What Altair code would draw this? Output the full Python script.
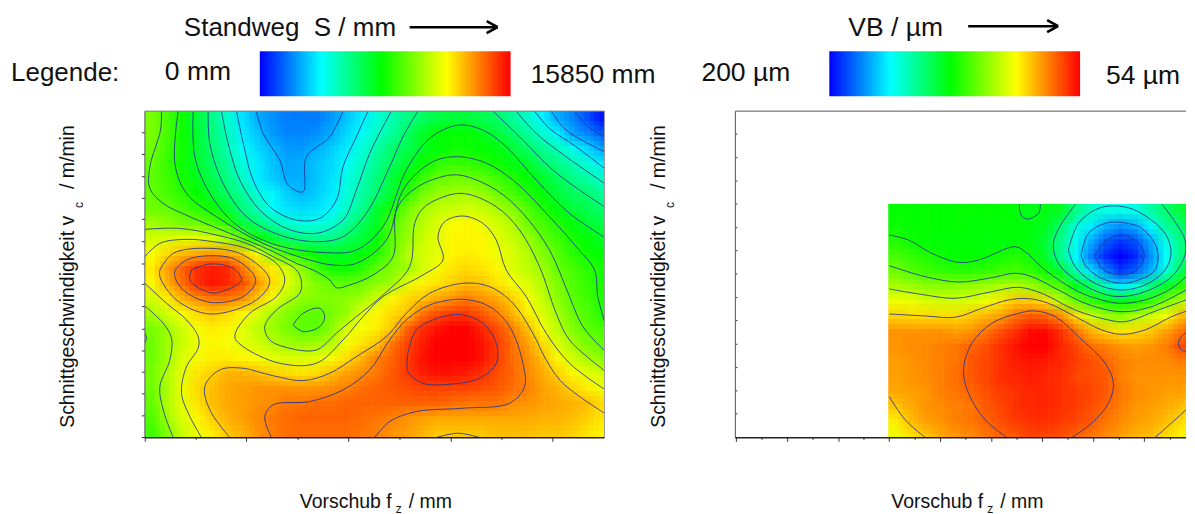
import itertools
import altair as alt
import pandas as pd

# ---- colour scale of both legends (0 = blue end, 100 = red end)
color_domain = [0, 24.5, 48.6, 74.5, 100]
color_range = ["#0000ff", "#00ffff", "#00ff00", "#ffff00", "#ff0000"]

# ---- left panel: Standweg, on a ruler of 3 units per pixel
left_x = [67.5 + 45 * i for i in range(31)]
left_y = [55.5 + 45 * j for j in range(22)]
L00 = [61,56,50,43,36,29,22,17,14,12,12,12,15,19,23,28,32,36,39,42,43,43,41,39,34,30,24,17,13,8,2]
L01 = [61,56,50,44,37,31,23,19,15,13,13,14,17,21,25,30,34,39,45,48,49,49,46,43,39,34,29,24,16,13,9]
L02 = [60,55,50,44,38,32,25,21,18,15,15,17,20,23,28,33,38,41,45,48,50,50,49,47,44,39,35,31,26,21,16]
L03 = [59,54,50,44,39,34,28,23,19,16,17,19,21,25,30,35,40,44,49,53,54,54,52,50,47,45,39,36,32,28,23]
L04 = [58,55,51,46,41,36,30,23,20,17,17,19,22,27,32,37,43,49,54,59,60,60,58,55,52,49,45,40,36,33,30]
L05 = [59,56,53,49,44,39,34,28,24,20,18,20,23,28,33,38,44,53,60,64,65,66,64,60,56,52,48,43,40,38,34]
L06 = [60,59,56,53,50,44,37,32,25,22,21,22,24,30,35,44,51,60,65,68,69,70,69,66,62,57,52,47,43,41,38]
L07 = [65,63,61,60,57,53,43,38,33,29,27,27,29,34,40,45,57,63,67,71,74,75,73,70,67,60,56,52,48,44,42]
L08 = [70,71,72,72,70,66,59,50,44,39,36,35,36,40,43,48,58,64,69,72,75,75,75,72,69,65,59,55,51,48,45]
L09 = [74,78,81,83,84,83,80,73,62,55,51,47,45,45,48,52,59,67,70,72,75,76,75,73,71,67,62,58,53,50,48]
L10 = [76,84,90,95,97,96,88,80,76,70,63,55,50,50,53,58,62,65,70,74,77,78,77,75,71,68,65,59,56,53,51]
L11 = [75,82,89,95,98,96,92,85,78,72,66,62,59,58,60,63,65,72,75,77,79,81,80,77,74,71,67,62,57,54,51]
L12 = [70,76,82,86,88,88,86,80,74,67,63,62,62,63,65,70,75,78,80,83,85,87,85,83,79,74,69,63,58,55,52]
L13 = [66,70,74,78,80,78,75,71,66,62,59,58,61,64,72,75,78,80,88,92,94,94,91,87,82,76,71,66,60,57,52]
L14 = [61,65,70,74,76,75,72,68,65,61,58,58,63,71,74,76,80,90,95,98,100,100,96,92,87,81,74,68,62,58,56]
L15 = [60,65,69,73,75,74,72,70,67,65,64,65,67,74,77,80,88,93,97,100,100,100,98,94,89,84,78,71,66,61,59]
L16 = [60,65,71,74,76,76,75,74,72,71,71,72,74,78,82,87,90,94,98,100,100,100,98,94,89,86,81,75,70,66,63]
L17 = [61,67,72,77,79,82,82,81,79,78,77,78,81,84,86,88,91,94,97,98,98,97,95,92,90,86,83,79,75,72,70]
L18 = [60,66,73,78,81,83,84,85,85,85,85,85,86,87,89,90,91,92,93,93,93,93,92,91,89,87,84,82,79,76,73]
L19 = [59,67,72,77,81,83,84,85,86,88,88,89,89,90,90,90,90,90,90,90,89,88,88,88,86,85,84,83,82,81,78]
L20 = [57,65,71,75,79,82,84,86,88,89,90,90,90,90,89,88,87,85,84,83,83,83,83,83,83,83,82,82,81,79,77]
L21 = [55,62,69,73,76,80,82,85,87,89,89,89,89,89,88,87,85,84,82,80,80,80,80,81,81,81,80,80,79,77,75]
left_rows = [L00,L01,L02,L03,L04,L05,L06,L07,L08,L09,L10,L11,L12,L13,L14,L15,L16,L17,L18,L19,L20,L21]

# ---- right panel: VB
right_x = [512.5 + 45 * i for i in range(21)]
right_y = [334.5 + 45 * j for j in range(16)]
R00 = [49,49,49,49,49,49,49,49,48,46,47,45,36,30,27,27,27,33,38,43,48]
R01 = [50,49,49,49,49,48,48,48,48,47,46,38,28,23,17,14,17,24,34,38,45]
R02 = [52,50,49,48,48,48,47,47,48,47,43,35,26,17,9,5,8,17,27,36,43]
R03 = [56,54,52,50,49,49,49,51,52,50,44,35,24,12,4,0,4,14,25,36,43]
R04 = [60,57,55,54,53,53,54,55,56,54,50,44,33,22,13,6,10,18,28,40,50]
R05 = [66,65,63,63,63,64,65,67,67,65,60,57,46,40,31,23,28,37,45,53,58]
R06 = [73,73,71,70,70,71,73,77,80,80,78,67,60,54,50,47,50,54,61,67,72]
R07 = [79,78,78,78,78,80,82,84,89,91,90,86,78,70,65,63,67,70,74,81,83]
R08 = [85,85,85,85,84,85,88,92,95,99,99,95,89,82,79,77,78,80,84,88,92]
R09 = [85,86,86,87,88,90,92,95,98,100,100,96,93,89,87,85,84,85,87,92,94]
R10 = [84,85,86,87,88,91,93,95,97,98,97,96,94,92,90,87,86,86,86,87,87]
R11 = [84,85,86,87,89,91,93,95,96,97,96,95,93,92,91,87,85,85,85,85,85]
R12 = [83,84,85,87,88,90,92,94,95,96,96,95,94,93,91,88,86,85,84,84,82]
R13 = [80,83,85,86,87,88,91,93,95,96,96,95,94,92,90,87,85,84,83,81,78]
R14 = [76,81,84,85,87,88,90,92,94,95,95,94,93,91,88,86,84,83,81,78,75]
R15 = [73,77,80,83,85,86,88,90,91,93,93,92,90,88,86,84,82,81,78,75,72]
right_rows = [R00,R01,R02,R03,R04,R05,R06,R07,R08,R09,R10,R11,R12,R13,R14,R15]

# ---- contour lines of the left panel
c_a1 = [(380,33),(400,100),(450,180),(475,255),(520,275),(530,170),(600,110),(640,33)]
c_a2 = [(320,33),(345,150),(370,240),(420,320),(500,360),(570,355),(620,300),(640,200),(680,110),(715,33)]
c_a3 = [(275,33),(295,130),(330,240),(390,330),(470,385),(560,400),(640,360),(680,270),(720,160),(785,33)]
c_a4 = [(235,33),(240,130),(280,250),(350,350),(450,405),(560,425),(640,410),(710,340),(780,200),(820,110),(865,33)]
c_a5 = [(190,33),(195,170),(240,280),(320,375),(440,435),(590,458),(680,450),(760,380),(830,210),(900,115),(985,75),(1060,90),(1130,140),(1220,240),(1320,340),(1425,412)]
c_a6 = [(145,33),(135,190),(170,280),(260,350),(400,430),(540,480),(610,495),(680,490),(770,420),(820,270),(900,190),(970,170),(1060,185),(1150,240),(1260,350),(1340,440),(1395,510),(1405,590),(1425,665)]
c_a7 = [(95,33),(92,90),(60,200),(60,265),(100,310),(180,350),(300,400),(420,450),(500,490),(550,510),(600,540),(620,563),(660,555),(730,525),(790,470),(800,330),(850,270),(920,235),(990,225),(1100,270),(1180,340),(1260,450),(1320,590),(1360,680),(1425,752)]
c_a8 = [(45,388),(150,385),(260,405),(350,430),(430,470),(500,510),(515,545),(510,580),(440,630),(405,680),(420,720),(480,745),(560,750),(620,700),(680,650),(760,585),(840,500),(855,370),(880,325),(930,295),(1000,280),(1100,320),(1170,390),(1230,500),(1280,640),(1320,720),(1425,812)]
c_a9 = [(45,470),(90,430),(170,418),(250,425),(350,445),(440,490),(465,540),(440,590),(360,640),(315,710),(340,740),(450,790),(560,790),(640,720),(700,650),(760,590),(880,525),(940,480),(925,410),(945,365),(1000,348),(1060,370),(1100,420),(1130,510),(1190,590),(1250,700),(1320,790),(1425,868)]
c_b1 = [(45,550),(110,610),(170,660),(205,710),(205,745),(170,800),(155,880),(180,950),(215,1013)]
c_b2 = [(45,618),(100,670),(125,715),(120,780),(90,860),(100,930),(130,1013)]
c_b3 = [(490,675),(520,640),(570,625),(585,650),(570,680),(520,695),(490,675)]
c_b4 = [(300,1013),(240,930),(225,860),(270,810),(340,805),(420,825),(520,842),(600,820),(680,770),(770,710),(830,640),(900,580),(1000,550),(1080,560),(1150,610),(1210,700),(1250,780),(1300,850),(1425,940)]
c_b5 = [(425,1013),(405,950),(430,915),(540,905),(640,870),(720,810),(780,720),(830,660),(900,615),(1000,598),(1080,620),(1140,680),(1180,790),(1185,860),(1140,910),(1000,925),(860,935),(780,965),(735,1013)]
c_b6 = [(835,760),(860,690),(940,650),(1000,645),(1060,670),(1100,730),(1100,790),(1050,835),(960,853),(880,850),(835,815),(835,760)]
c_b7 = [(920,1013),(985,1000),(1050,1013)]
c_b8 = [(45,700),(50,715),(45,728)]
c_r1 = [(185,510),(240,492),(310,505),(335,540),(290,570),(240,578),(180,540),(185,510)]
c_r2 = [(135,510),(170,480),(240,467),(320,480),(378,540),(340,590),(240,607),(160,570),(135,530),(135,510)]
c_r3 = [(90,510),(130,460),(240,445),(340,465),(420,540),(380,600),(240,642),(140,600),(90,530),(90,510)]
c_t1 = [(1090,33),(1170,110),(1270,210),(1350,270),(1425,320)]
c_t2 = [(1160,33),(1220,100),(1310,170),(1425,250)]
c_t3 = [(1215,33),(1260,85),(1340,140),(1425,205)]
c_t4 = [(1265,33),(1310,90),(1425,155)]
c_t5 = [(1335,33),(1370,75),(1425,110)]
left_contours = [c_a1,c_a2,c_a3,c_a4,c_a5,c_a6,c_a7,c_a8,c_a9,c_b1,c_b2,c_b3,c_b4,c_b5,c_b6,c_b7,c_b8,c_r1,c_r2,c_r3,c_t1,c_t2,c_t3,c_t4,c_t5]

# ---- contour lines of the right panel
d_1 = [(1110,465),(1140,425),(1185,405),(1230,420),(1258,465),(1235,510),(1185,525),(1130,505),(1110,465)]
d_2 = [(1068,465),(1090,400),(1140,370),(1185,367),(1250,385),(1297,450),(1290,510),(1240,540),(1185,550),(1120,530),(1080,495),(1068,465)]
d_3 = [(1030,450),(1060,370),(1120,325),(1180,318),(1240,335),(1320,400),(1338,460),(1320,510),(1260,555),(1185,570),(1110,550),(1050,500),(1030,450)]
d_4 = [(1052,312),(1010,370),(985,430),(1000,490),(1060,545),(1130,580),(1185,590),(1260,575),(1340,530),(1380,465),(1380,420),(1350,365),(1310,312)]
d_5 = [(882,312),(888,345),(905,357),(940,340),(946,312)]
d_6 = [(492,405),(550,420),(620,460),(700,487),(760,480),(870,440),(900,455),(960,510),(1060,575),(1130,600),(1185,610),(1260,600),(1340,565),(1410,505)]
d_7 = [(492,497),(600,530),(700,546),(790,535),(870,520),(920,530),(1000,570),(1080,610),(1185,635),(1280,620),(1410,555)]
d_8 = [(492,567),(600,585),(690,595),(800,575),(880,562),(950,580),(1050,630),(1150,660),(1200,665),(1300,630),(1410,590)]
d_9 = [(492,642),(600,648),(690,652),(770,625),(850,600),(910,596),(970,610),(1060,655),(1130,690),(1190,703),(1260,690),(1340,650),(1410,625)]
d_10 = [(1410,690),(1380,700),(1360,730),(1375,753),(1410,745)]
d_11 = [(845,1013),(780,960),(730,880),(715,810),(740,730),(800,670),(880,640),(930,633),(990,650),(1060,710),(1140,790),(1165,850),(1150,910),(1100,970),(1040,1013)]
d_12 = [(492,890),(540,960),(600,1013)]
d_13 = [(1290,1013),(1350,960),(1410,905)]
right_contours = [d_1,d_2,d_3,d_4,d_5,d_6,d_7,d_8,d_9,d_10,d_11,d_12,d_13]

# ---- ticks
left_x_major = [46,350,657,965,1270]
left_x_minor = [199,505,811,1117]
left_y_ticks = [98,163,230,295,358,425,492,553,620,688,753,817,882,948,1013]
right_x_major = [33,187,341,492,646,800,952,1106,1258]
right_x_minor = [110,263,416,570,722,876,1029,1183,1336]
right_y_ticks = [102,173,243,312,383,452,522,593,662,733,803,873,942,1013]

PH = 327
FONT = "Liberation Sans"
LINE = "#22348f"
ONE = alt.Data(values=[{}])
PALETTE = alt.Scale(domain=color_domain, range=color_range, interpolate="rgb")


def cells(xs, ys, rows, xlim, ylim, dx, dy):
    out = []
    for j, (yc, row) in enumerate(zip(ys, rows)):
        assert len(row) == len(xs), (j, len(row))
        for i, (xc, v) in enumerate(zip(xs, row)):
            x0 = xlim[0] if i == 0 else xc - 22.5 + dx
            x1 = xlim[1] if i == len(xs) - 1 else xc + 22.5 + dx
            y0 = ylim[0] if j == 0 else yc - 22.5 + dy
            y1 = ylim[1] if j == len(ys) - 1 else yc + 22.5 + dy
            out.append({"x0": x0, "x1": x1, "y0": y0, "y1": y1, "v": v})
    return pd.DataFrame(out)


def lines_df(contours):
    return pd.DataFrame(
        [{"id": k, "seq": n, "x": p[0], "y": p[1]} for k, c in enumerate(contours) for n, p in enumerate(c)]
    )


def label(text, x, y, size, origin, angle=0):
    return alt.Chart(ONE).mark_text(
        font=FONT, fontSize=size, color="#111", align="left", baseline="alphabetic", angle=angle
    ).encode(x=alt.value(x - origin[0]), y=alt.value(y - origin[1]), text=alt.value(text))


def seg(x1, x2, y1, y2, origin, w=2.6, color="#000"):
    return alt.Chart(ONE).mark_rule(color=color, strokeWidth=w).encode(
        x=alt.value(x1 - origin[0]), x2=alt.value(x2 - origin[0]),
        y=alt.value(y1 - origin[1]), y2=alt.value(y2 - origin[1]),
    )


def arrow(x1, x2, y, origin):
    return [seg(x1, x2, y, y, origin), seg(x2 - 11, x2, y - 6, y, origin), seg(x2 - 11, x2, y + 6, y, origin)]


def legend_bar(x1, x2, origin):
    grad = alt.Gradient(
        gradient="linear", x1=0, x2=1, y1=0, y2=0,
        stops=[alt.GradientStop(offset=o / 100, color=c) for o, c in zip(color_domain, color_range)],
    )
    return alt.Chart(ONE).mark_rect(fill=grad).encode(
        x=alt.value(x1 - origin[0]), x2=alt.value(x2 - origin[0]),
        y=alt.value(51 - origin[1]), y2=alt.value(96 - origin[1]),
    )


def panel(width, xs, ys, rows, xlim, ylim, xdom, contours, x_major, x_minor, y_ticks, y_tick_range, extras):
    sx = alt.Scale(domain=xdom, nice=False, zero=False)
    sy = alt.Scale(domain=[1014, 33], nice=False, zero=False)
    layers = []
    offsets = list(itertools.product([-15, 0, 15], [-15, 0, 15]))
    for k, (dx, dy) in enumerate(offsets):
        layers.append(
            alt.Chart(cells(xs, ys, rows, xlim, ylim, dx, dy)).mark_rect(opacity=1 / (k + 1), clip=True, strokeWidth=0).encode(
                x=alt.X("x0:Q", scale=sx, axis=None),
                x2="x1:Q",
                y=alt.Y("y0:Q", scale=sy, axis=None),
                y2="y1:Q",
                color=alt.Color("v:Q", scale=PALETTE, legend=None),
            )
        )
    layers.append(
        alt.Chart(lines_df(contours)).mark_line(stroke=LINE, strokeWidth=1, opacity=0.85, clip=True, interpolate="catmull-rom").encode(
            x=alt.X("x:Q", scale=sx, axis=None), y=alt.Y("y:Q", scale=sy, axis=None),
            detail="id:N", order="seq:Q",
        )
    )
    layers.append(alt.Chart(pd.DataFrame({"x": x_major})).mark_rule(color="#333").encode(
        x=alt.X("x:Q", scale=sx, axis=None), y=alt.value(PH), y2=alt.value(PH + 4)))
    layers.append(alt.Chart(pd.DataFrame({"x": x_minor})).mark_rule(color="#333").encode(
        x=alt.X("x:Q", scale=sx, axis=None), y=alt.value(PH), y2=alt.value(PH + 2)))
    layers.append(alt.Chart(pd.DataFrame({"y": y_ticks})).mark_rule(color="#333").encode(
        y=alt.Y("y:Q", scale=sy, axis=None), x=alt.value(y_tick_range[0]), x2=alt.value(y_tick_range[1])))
    return alt.layer(*layers, *extras).properties(width=width, height=PH)


O_L = (145, 111)
O_R = (735, 111)
BIG = 26.5
AX = 19.5
left_extras = [
    label("Standweg\u00a0 S / mm", 184, 36, BIG - 0.5, O_L),
    *arrow(410, 498, 27, O_L),
    label("Legende:", 11, 81, BIG - 0.5, O_L),
    label("0 mm", 165, 80, BIG, O_L),
    legend_bar(260, 511, O_L),
    label("15850 mm", 531, 83, BIG, O_L),
    seg(145, 605, 111, 111, O_L, w=1, color="#777"),
    seg(605, 605, 111, 438, O_L, w=1, color="#999"),
    seg(145, 145, 111, 438, O_L, w=1, color="#555"),
    seg(145, 605, 438, 438, O_L, w=1.5, color="#222"),
    label("Schnittgeschwindigkeit v", 74, 428, AX, O_L, angle=270),
    label("c", 83, 208, 12, O_L, angle=270),
    label("/ m/min", 74, 189, AX, O_L, angle=270),
    label("Vorschub f", 300, 508, AX, O_L),
    label("z", 396, 513, 12, O_L),
    label("/ mm", 409, 508, AX, O_L),
]
right_extras = [
    label("VB / µm", 848, 36, BIG, O_R),
    *arrow(968, 1058, 26, O_R),
    label("200 µm", 701, 81, BIG, O_R),
    legend_bar(829, 1080, O_R),
    label("54 µm", 1106, 84, BIG, O_R),
    seg(735, 1186, 111, 111, O_R, w=1, color="#555"),
    seg(735, 735, 111, 438, O_R, w=1, color="#555"),
    seg(735, 1186, 438, 438, O_R, w=1.5, color="#222"),
    label("Schnittgeschwindigkeit v", 665, 428, AX, O_R, angle=270),
    label("c", 674, 208, 12, O_R, angle=270),
    label("/ m/min", 665, 189, AX, O_R, angle=270),
    label("Vorschub f", 891, 508, AX, O_R),
    label("z", 987, 513, 12, O_R),
    label("/ mm", 1000, 508, AX, O_R),
]

left = panel(460, left_x, left_y, left_rows, (45, 1425), (33, 1014), [45, 1425], left_contours,
             left_x_major, left_x_minor, left_y_ticks, (-3, 0), left_extras)
right = panel(451, right_x, right_y, right_rows, (490, 1410), (312, 1014), [30, 1383], right_contours,
              right_x_major, right_x_minor, right_y_ticks, (0, 2), right_extras)

chart = (
    alt.hconcat(left, right, spacing=131, bounds="flush")
    .properties(padding={"left": 3, "top": 7, "right": 0, "bottom": 0}, background="white")
    .configure_view(strokeWidth=0)
)
chart.save("out.html", embed_options={"renderer": "svg", "actions": False})
